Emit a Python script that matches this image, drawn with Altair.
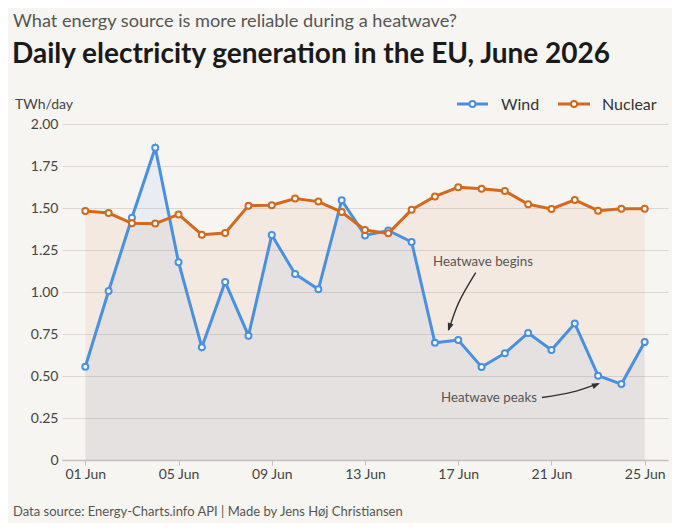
import altair as alt
import pandas as pd

# ---- data ----
days = list(range(1, 26))
wind = [0.555, 1.006, 1.442, 1.859, 1.177, 0.671, 1.060, 0.740, 1.339, 1.107,
        1.016, 1.546, 1.337, 1.366, 1.298, 0.698, 0.714, 0.554, 0.635, 0.756,
        0.655, 0.813, 0.502, 0.452, 0.702]
nuclear = [1.482, 1.470, 1.409, 1.407, 1.462, 1.341, 1.351, 1.514, 1.516, 1.556,
           1.538, 1.476, 1.369, 1.349, 1.490, 1.569, 1.623, 1.615, 1.601, 1.522,
           1.494, 1.548, 1.484, 1.496, 1.496]
x_ticks = [1, 5, 9, 13, 17, 21, 25]
y_ticks = [0, 0.25, 0.5, 0.75, 1.0, 1.25, 1.5, 1.75, 2.0]

series_names = ["Wind", "Nuclear"]
title_text = "Daily electricity generation in the EU, June 2026"
subtitle_text = "What energy source is more reliable during a heatwave?"
unit_text = "TWh/day"
source_text = "Data source: Energy-Charts.info API | Made by Jens Høj Christiansen"

# annotations (data coordinates)
ann_labels = ["Heatwave begins", "Heatwave peaks"]
ann_x = [18.06, 18.32]
ann_y = [1.179, 0.369]
arrow1_x = [17.75, 17.03, 16.60]
arrow1_y = [1.115, 0.940, 0.775]
arrow2_x = [20.59, 21.88, 23.00]
arrow2_y = [0.372, 0.404, 0.455]
tip1 = (16.56, 0.768)
tip2 = (23.08, 0.457)

# ---- style ----
BG = "#f7f5f2"
BLUE = "#4a90e2"
ORANGE = "#d2691e"
GRID = "#dcd8d4"
AXIS = "#c4c0bc"
LABEL = "#444444"
FONT = "Lato"

df = pd.DataFrame({"day": days, "wind": wind, "nuclear": nuclear})

x_enc = alt.X(
    "day:Q",
    scale=alt.Scale(domain=[0, 26], nice=False, zero=False),
    axis=alt.Axis(
        values=x_ticks,
        labelExpr="(datum.value < 10 ? '0' : '') + datum.value + ' Jun'",
        grid=False, title=None, domainColor=AXIS, domainWidth=1.5,
        tickColor=AXIS, tickSize=5, tickWidth=1, labelPadding=2,
        labelFont=FONT, labelFontSize=14, labelColor=LABEL,
    ),
)


def y_enc(field):
    return alt.Y(
        f"{field}:Q",
        scale=alt.Scale(domain=[0, 2], nice=False),
        axis=alt.Axis(
            values=y_ticks,
            labelExpr="datum.value == 0 ? '0' : format(datum.value, '.2f')",
            domain=False, ticks=False, title=None, gridColor=GRID, gridWidth=1,
            labelPadding=4, labelFont=FONT, labelFontSize=14, labelColor=LABEL,
        ),
    )


base = alt.Chart(df)

nuc_area = base.mark_area(color=ORANGE, opacity=0.08).encode(x=x_enc, y=y_enc("nuclear"))
wind_area = base.mark_area(color=BLUE, opacity=0.08).encode(x=x_enc, y=y_enc("wind"))
wind_line = base.mark_line(color=BLUE, strokeWidth=3).encode(x="day:Q", y="wind:Q")
wind_pts = base.mark_point(shape="circle", filled=False, fill="#ffffff", fillOpacity=1,
                           opacity=1, color=BLUE, size=36, strokeWidth=2).encode(x="day:Q", y="wind:Q")
nuc_line = base.mark_line(color=ORANGE, strokeWidth=3).encode(x="day:Q", y="nuclear:Q")
nuc_pts = base.mark_point(shape="circle", filled=False, fill="#ffffff", fillOpacity=1,
                          opacity=1, color=ORANGE, size=36, strokeWidth=2).encode(x="day:Q", y="nuclear:Q")

# annotations
ann_df = pd.DataFrame({"label": ann_labels, "x": ann_x, "y": ann_y})
ann_text = alt.Chart(ann_df).mark_text(font=FONT, fontSize=13.3, color="#555555",
                                       align="center", baseline="middle").encode(
    x="x:Q", y="y:Q", text="label:N")

a1 = pd.DataFrame({"x": arrow1_x, "y": arrow1_y, "o": [0, 1, 2]})
a2 = pd.DataFrame({"x": arrow2_x, "y": arrow2_y, "o": [0, 1, 2]})
arrow1 = alt.Chart(a1).mark_line(color="#333333", strokeWidth=1.4, interpolate="cardinal").encode(
    x="x:Q", y="y:Q", order="o:Q")
arrow2 = alt.Chart(a2).mark_line(color="#333333", strokeWidth=1.4, interpolate="cardinal").encode(
    x="x:Q", y="y:Q", order="o:Q")
HEAD = "M0,0L-0.6,1.6L0.6,1.6Z"
head1 = alt.Chart(pd.DataFrame({"x": [tip1[0]], "y": [tip1[1]]})).mark_point(
    shape=HEAD, filled=True, color="#333333", opacity=1, size=100, angle=200).encode(x="x:Q", y="y:Q")
head2 = alt.Chart(pd.DataFrame({"x": [tip2[0]], "y": [tip2[1]]})).mark_point(
    shape=HEAD, filled=True, color="#333333", opacity=1, size=100, angle=68).encode(x="x:Q", y="y:Q")

# decorations (titles, legend, footer) positioned in pixels relative to the plot area
one = alt.Data(values=[{}])


def txt(text, x, y, size, color, weight="normal", align="left"):
    return alt.Chart(one).mark_text(text=text, font=FONT, fontSize=size, color=color,
                                    fontWeight=weight, align=align, baseline="alphabetic").encode(
        x=alt.value(x), y=alt.value(y))


subtitle = txt(subtitle_text, -49, -97, 18.2, "#555555")
title = txt(title_text, -50, -61, 28, "#1a1a1a", weight="bold")
unit = txt(unit_text, -47, -15, 14, LABEL)
footer = txt(source_text, -49, 392, 13, "#555555")


def legend_item(name, color, x0, x1, cx, tx):
    line = alt.Chart(one).mark_rule(color=color, strokeWidth=3).encode(
        x=alt.value(x0), x2=alt.value(x1), y=alt.value(-20))
    dot = alt.Chart(one).mark_point(shape="circle", filled=False, fill="#ffffff", fillOpacity=1,
                                    opacity=1, color=color, size=36, strokeWidth=2).encode(
        x=alt.value(cx), y=alt.value(-20))
    label = txt(name, tx, -14, 16, "#333333")
    return [line, dot, label]


leg = legend_item(series_names[0], BLUE, 395, 426, 410.5, 439) + \
      legend_item(series_names[1], ORANGE, 496, 528, 512, 540)

chart = alt.layer(
    nuc_area, wind_area, wind_line, wind_pts, nuc_line, nuc_pts,
    ann_text, arrow1, arrow2, head1, head2,
    subtitle, title, unit, footer, *leg,
).properties(
    width=606, height=336,
    padding={"left": 54, "top": 116, "right": 4, "bottom": 63},
    autosize=alt.AutoSizeParams(type="none"),
    background=BG,
).configure_view(stroke=None)

chart.save("out.html", embed_options={"renderer": "svg", "actions": False})
